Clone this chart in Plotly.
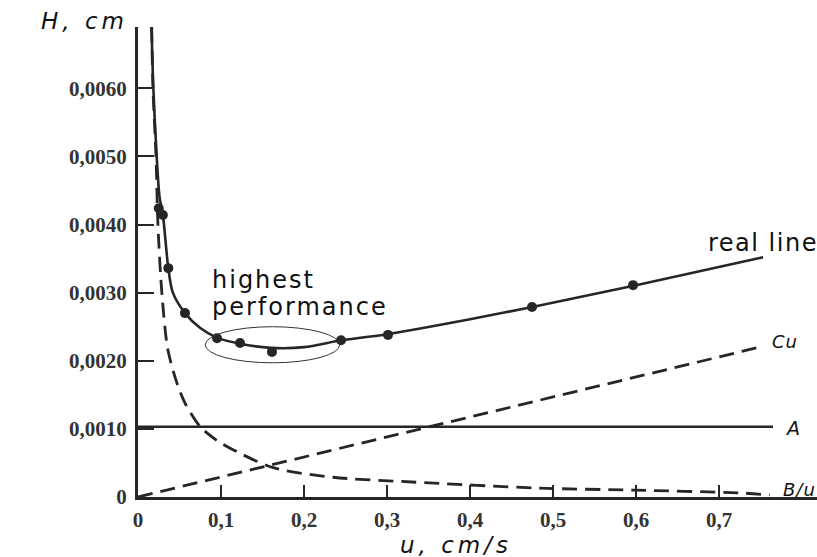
import plotly.graph_objects as go

# ---- data ----
real_u = [0.0163, 0.0185, 0.0225, 0.026, 0.030, 0.0365, 0.042, 0.0566, 0.075, 0.095,
          0.123, 0.16, 0.2, 0.245, 0.3, 0.4, 0.475, 0.6, 0.753]
real_h = [0.0069, 0.0060, 0.0050, 0.00440, 0.00414, 0.00336, 0.00300, 0.00270, 0.00248,
          0.00234, 0.00225, 0.00219, 0.00220, 0.00230, 0.00239, 0.00261, 0.00279, 0.00311, 0.00352]

pts_u = [0.025, 0.030, 0.0365, 0.0566, 0.0952, 0.1229, 0.1614, 0.2446, 0.3012, 0.4747, 0.5964]
pts_h = [0.00424, 0.00414, 0.00336, 0.00270, 0.00233, 0.00226, 0.00213, 0.00230, 0.00238, 0.00279, 0.00311]

bu_u = [0.0165, 0.018, 0.0217, 0.024, 0.0289, 0.036, 0.047, 0.0566, 0.075, 0.095, 0.115,
        0.163, 0.235, 0.33, 0.484, 0.6, 0.725, 0.761]
bu_h = [0.0069, 0.0060, 0.0050, 0.0040, 0.00297, 0.00216, 0.00167, 0.00138, 0.00103, 0.00083,
        0.00069, 0.00043, 0.00029, 0.00022, 0.00013, 0.00010, 0.00006, 0.00003]

cu_u = [0.0, 0.749]
cu_h = [0.0, 0.00220]

a_u = [0.0, 0.765]
a_h = [0.00103, 0.00103]

x_ticks = [0, 0.1, 0.2, 0.3, 0.4, 0.5, 0.6, 0.7]
x_ticktext = ["0", "0,1", "0,2", "0,3", "0,4", "0,5", "0,6", "0,7"]
y_ticks = [0, 0.001, 0.002, 0.003, 0.004, 0.005, 0.006]
y_ticktext = ["0", "0,0010", "0,0020", "0,0030", "0,0040", "0,0050", "0,0060"]

INK = "#262626"
fig = go.Figure()

fig.add_trace(go.Scatter(x=a_u, y=a_h, mode="lines",
                         line=dict(color=INK, width=2.5), hoverinfo="skip"))
fig.add_trace(go.Scatter(x=cu_u, y=cu_h, mode="lines",
                         line=dict(color=INK, width=2.8, dash="15px,8px"), hoverinfo="skip"))
fig.add_trace(go.Scatter(x=bu_u, y=bu_h, mode="lines",
                         line=dict(color=INK, width=2.8, dash="15px,8px", shape="spline", smoothing=0.8),
                         hoverinfo="skip"))
fig.add_trace(go.Scatter(x=real_u, y=real_h, mode="lines",
                         line=dict(color=INK, width=2.6, shape="spline", smoothing=0.8),
                         hoverinfo="skip"))
fig.add_trace(go.Scatter(x=pts_u, y=pts_h, mode="markers",
                         marker=dict(color=INK, size=10), hoverinfo="skip"))

fig.add_shape(type="circle", xref="x", yref="y", x0=0.081, x1=0.243, y0=0.00197, y1=0.00250,
              line=dict(color="#333333", width=1))

tick_font = dict(family="Liberation Serif", size=21, color="#333333", weight="bold")

fig.update_xaxes(range=[0, 0.818], tickvals=x_ticks, ticktext=x_ticktext,
                 showline=True, linewidth=3, linecolor=INK, ticks="inside", ticklen=12,
                 tickwidth=2, tickcolor=INK, showgrid=False, zeroline=False,
                 tickfont=tick_font, ticklabelstandoff=2)
fig.update_yaxes(range=[0, 0.0069], tickvals=y_ticks, ticktext=y_ticktext,
                 showline=True, linewidth=3, linecolor=INK, ticks="inside", ticklen=16,
                 tickwidth=2, tickcolor=INK, showgrid=False, zeroline=False,
                 tickfont=tick_font, ticklabelstandoff=4)

sans = "DejaVu Sans"
def sp(t, ls):
    return '<span style="letter-spacing:%spx">%s</span>' % (ls, t)

ann = [
    dict(text=sp("H, cm", 4), xref="paper", yref="paper", x=-0.0795, y=1.013,
         font=dict(family=sans, size=23, color="#111", style="italic"), xanchor="center", yanchor="middle"),
    dict(text=sp("u, cm/s", 4), xref="paper", yref="paper", x=0.468, y=-0.102,
         font=dict(family=sans, size=23, color="#111", style="italic"), xanchor="center", yanchor="middle"),
    dict(text=sp("highest", 2), xref="x", yref="y", x=0.0867, y=0.00319,
         font=dict(family=sans, size=24, color="#111"), xanchor="left", yanchor="middle"),
    dict(text=sp("performance", 2), xref="x", yref="y", x=0.0867, y=0.00279,
         font=dict(family=sans, size=24, color="#111"), xanchor="left", yanchor="middle"),
    dict(text=sp("real line", 1.5), xref="x", yref="y", x=0.6843, y=0.00373,
         font=dict(family=sans, size=24, color="#111"), xanchor="left", yanchor="middle"),
    dict(text=sp("Cu", 1), xref="x", yref="y", x=0.7614, y=0.00229,
         font=dict(family=sans, size=18, color="#111", style="italic"), xanchor="left", yanchor="middle"),
    dict(text="A", xref="x", yref="y", x=0.777, y=0.00101,
         font=dict(family=sans, size=19, color="#111", style="italic"), xanchor="left", yanchor="middle"),
    dict(text=sp("B/u", 1), xref="x", yref="y", x=0.7747, y=0.000103,
         font=dict(family=sans, size=18, color="#111", style="italic"), xanchor="left", yanchor="middle"),
]
for a in ann:
    a["showarrow"] = False
    fig.add_annotation(**a)

fig.update_layout(width=817, height=557, margin=dict(l=138, r=0, t=27, b=60),
                  plot_bgcolor="white", paper_bgcolor="white", showlegend=False)

fig.write_html("out.html", config={"displayModeBar": False},
               post_script="document.body.style.margin='0';document.body.style.overflow='hidden';")
